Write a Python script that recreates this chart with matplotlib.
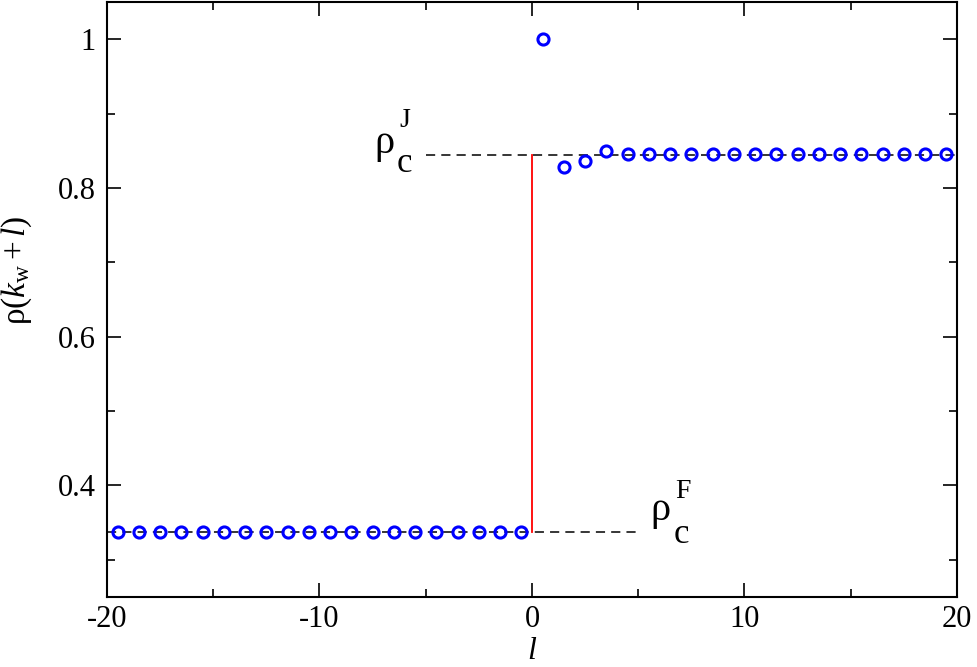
import numpy as np
import matplotlib
matplotlib.use("Agg")
import matplotlib.pyplot as plt
from matplotlib.ticker import MultipleLocator

plt.rcParams["font.family"] = ["Liberation Serif", "DejaVu Serif"]
plt.rcParams["mathtext.fontset"] = "custom"
plt.rcParams["mathtext.rm"] = "Liberation Serif"
plt.rcParams["mathtext.it"] = "Liberation Serif:italic"
plt.rcParams["axes.unicode_minus"] = False

# site offsets l and density values
l_left = [-19.5, -18.5, -17.5, -16.5, -15.5, -14.5, -13.5, -12.5, -11.5, -10.5,
          -9.5, -8.5, -7.5, -6.5, -5.5, -4.5, -3.5, -2.5, -1.5, -0.5]
rho_left = [0.338] * 20
l_right = [0.5, 1.5, 2.5, 3.5, 4.5, 5.5, 6.5, 7.5, 8.5, 9.5, 10.5, 11.5, 12.5,
           13.5, 14.5, 15.5, 16.5, 17.5, 18.5, 19.5]
rho_right = [1.0, 0.828, 0.836, 0.849, 0.845, 0.845, 0.845, 0.845, 0.845, 0.845,
             0.845, 0.845, 0.845, 0.845, 0.845, 0.845, 0.845, 0.845, 0.845, 0.845]

rho_J = 0.8445
rho_F = 0.338
jam_dash = [-5, 20]
free_dash = [-20, 5]

fig = plt.figure(figsize=(9.77, 6.67), dpi=100)
ax = fig.add_axes([0.1095, 0.105, 0.87, 0.892])

ax.plot(jam_dash, [rho_J, rho_J], color="black", ls=(0, (6, 4)), lw=1.1, zorder=1)
ax.plot(free_dash, [rho_F, rho_F], color="black", ls=(0, (6, 4)), lw=1.1, zorder=1)
ax.plot([0, 0], [rho_F, rho_J], color="red", lw=1.3, zorder=2)

ax.plot(l_left + l_right, rho_left + rho_right, ls="none", marker="o", ms=8,
        mfc="none", mec="blue", mew=2.2, zorder=3)

# rho_c^J and rho_c^F labels, built from pieces to get the wide super/subscript spacing
ax.text(-7.4, 0.847, "ρ", fontsize=29, va="baseline", ha="left")
ax.text(-6.35, 0.8216, "c", fontsize=25, va="baseline", ha="left")
ax.text(-6.25, 0.882, "J", fontsize=20, va="baseline", ha="left")
ax.text(5.55, 0.3537, "ρ", fontsize=29, va="baseline", ha="left")
ax.text(6.65, 0.3228, "c", fontsize=25, va="baseline", ha="left")
ax.text(6.75, 0.3833, "F", fontsize=20, va="baseline", ha="left")

ax.set_xlim(-20, 20)
ax.set_ylim(0.25, 1.05)
ax.xaxis.set_major_locator(MultipleLocator(10))
ax.xaxis.set_minor_locator(MultipleLocator(5))
ax.yaxis.set_minor_locator(MultipleLocator(0.1))
ax.set_yticks([0.4, 0.6, 0.8, 1.0])
ax.set_yticklabels(["0.4", "0.6", "0.8", "1"])
ax.tick_params(which="both", direction="in", top=True, right=True, labelsize=22, width=1.2)
ax.tick_params(which="major", length=10, pad=8)
ax.tick_params(axis="x", which="major", pad=6)
ax.tick_params(which="minor", length=6)
for s in ax.spines.values():
    s.set_linewidth(1.5)

ax.set_xlabel(r"$l$", fontsize=23)
ax.xaxis.set_label_coords(0.5, -0.068)
ax.set_ylabel(r"$\mathrm{ρ}(k_{\mathrm{w}}+l)$", fontsize=24)
ax.yaxis.set_label_coords(-0.086, 0.55)

fig.savefig("out.png", dpi=100)
